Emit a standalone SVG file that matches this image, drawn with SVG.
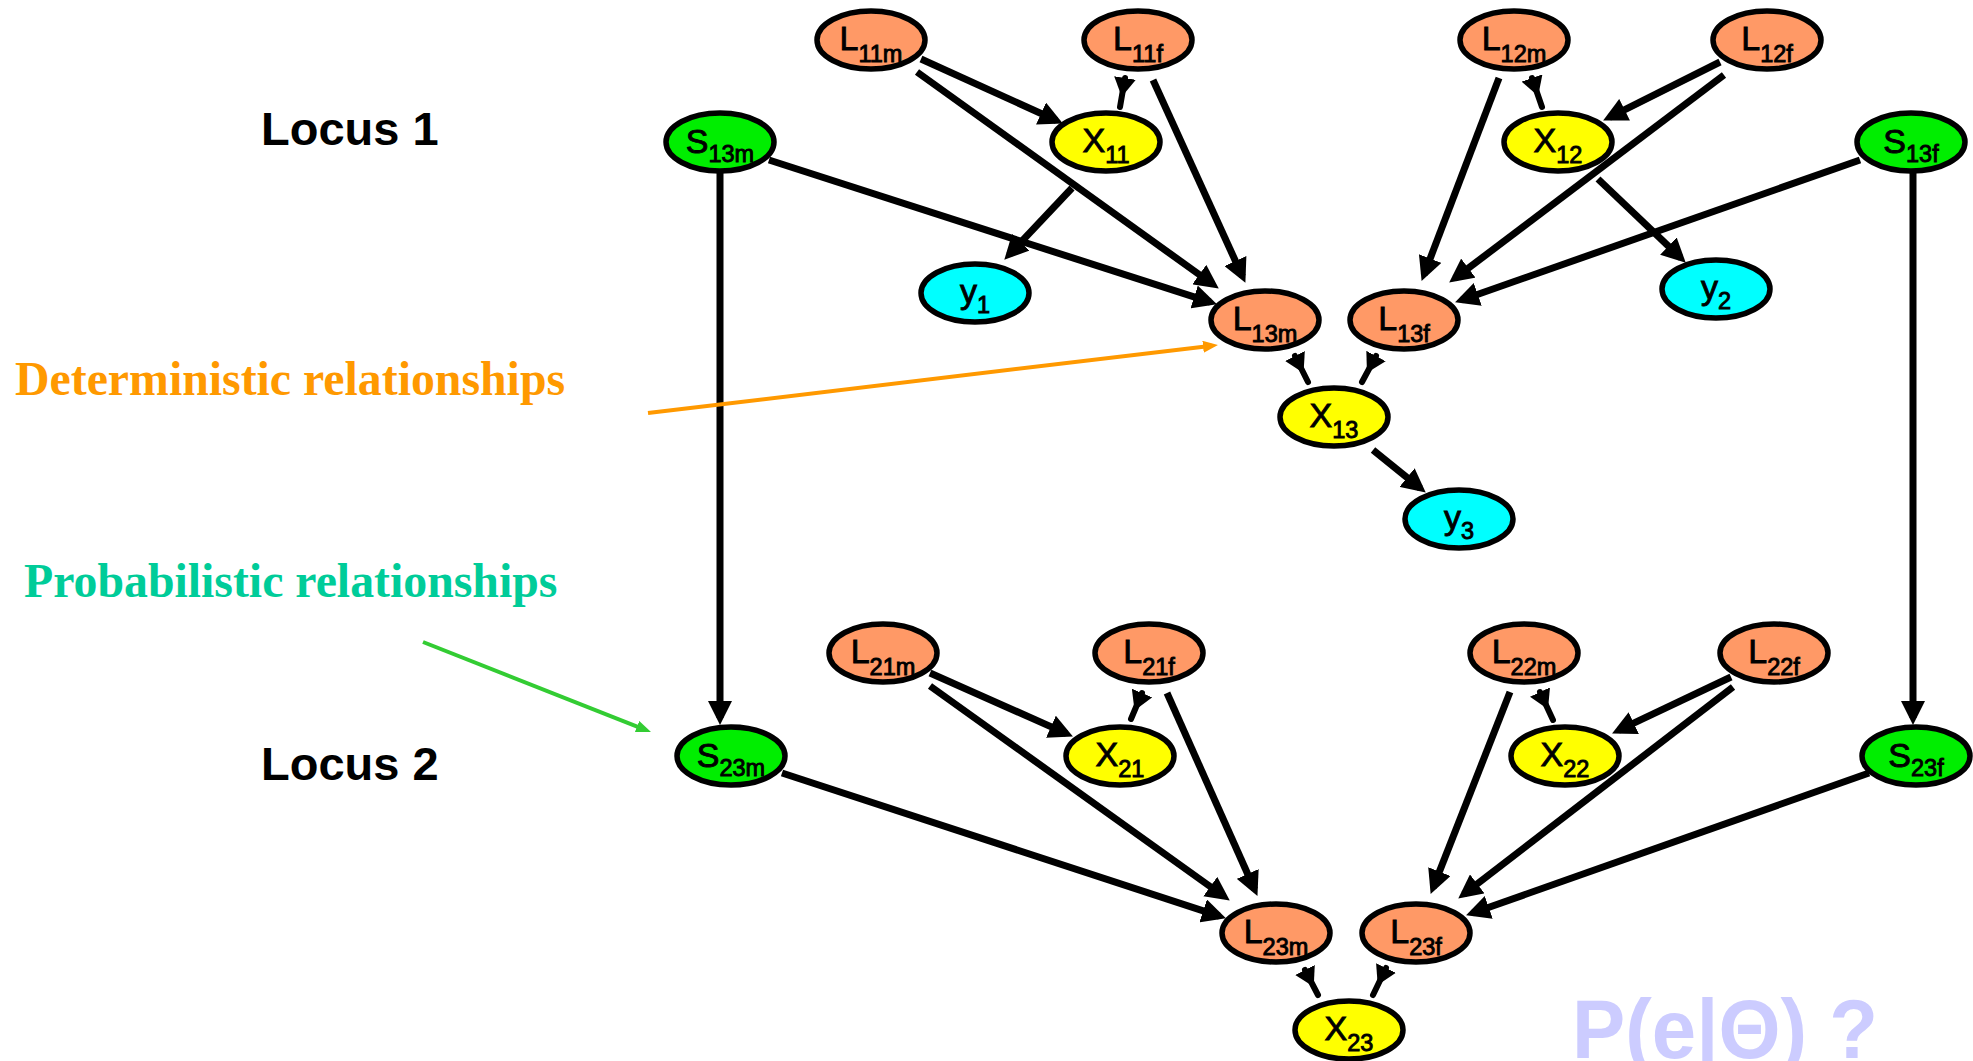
<svg xmlns="http://www.w3.org/2000/svg" width="1973" height="1061" viewBox="0 0 1973 1061">
  <defs>
    <style>
      .node ellipse { stroke: #000; stroke-width: 5.5; }
      .allele ellipse { fill: #FF9966; }
      .geno ellipse { fill: #FFFF00; }
      .sel ellipse { fill: #00EE00; }
      .pheno ellipse { fill: #00FFFF; }
      .lbl { font-family: "Liberation Sans", Arial, sans-serif; font-size: 34px; text-anchor: middle; fill: #000; stroke: #000; stroke-width: 0.9; }
      .sub { font-size: 23.5px; }
      .edge { stroke: #000; stroke-width: 7; fill: none; marker-end: url(#head); }
      .stub { stroke: #000; stroke-width: 6; stroke-linecap: round; fill: none; marker-start: url(#stubhead); }
      .locus { font-family: "Liberation Sans", Arial, sans-serif; font-size: 47px; font-weight: bold; fill: #000; }
      .note { font-family: "Liberation Serif", "Times New Roman", serif; font-size: 47.8px; font-weight: bold; }
    </style>
    <marker id="head" markerUnits="userSpaceOnUse" viewBox="0 0 24 24" markerWidth="24" markerHeight="24" refX="17" refY="12" orient="auto">
      <path d="M0,0 L24,12 L0,24 z" fill="#000"/>
    </marker>
    <marker id="stubhead" markerUnits="userSpaceOnUse" viewBox="0 0 19 22" markerWidth="19" markerHeight="22" refX="0" refY="11" orient="auto">
      <path d="M0,0 L19,11 L0,22 z" fill="#000"/>
    </marker>
    <marker id="headOrange" markerUnits="userSpaceOnUse" viewBox="0 0 15 12" markerWidth="15" markerHeight="12" refX="9" refY="6" orient="auto">
      <path d="M0,0 L15,6 L0,12 z" fill="#FF9900"/>
    </marker>
    <marker id="headGreen" markerUnits="userSpaceOnUse" viewBox="0 0 15 12" markerWidth="15" markerHeight="12" refX="9" refY="6" orient="auto">
      <path d="M0,0 L15,6 L0,12 z" fill="#33CC33"/>
    </marker>
  </defs>

  <rect width="1973" height="1061" fill="#fff"/>

  <!-- side labels -->
  <text class="locus" x="261" y="145">Locus 1</text>
  <text class="locus" x="261" y="780">Locus 2</text>
  <text class="note" x="15" y="395" fill="#FF9900">Deterministic relationships</text>
  <text class="note" x="24" y="597" fill="#00CC99">Probabilistic relationships</text>
  <text x="1572" y="1058" font-family="Liberation Sans, Arial, sans-serif" font-size="83" font-weight="bold" fill="#CCCCFF" textLength="306" lengthAdjust="spacingAndGlyphs">P(e|Θ) ?</text>

  <!-- nodes -->
  <g id="L11m" class="node allele"><ellipse cx="871" cy="40" rx="54" ry="29"/><text class="lbl" x="871" y="50">L<tspan class="sub" dy="12">11m</tspan></text></g>
  <g id="L11f" class="node allele"><ellipse cx="1138" cy="40" rx="54" ry="29"/><text class="lbl" x="1138" y="50">L<tspan class="sub" dy="12">11f</tspan></text></g>
  <g id="L12m" class="node allele"><ellipse cx="1514" cy="40" rx="54" ry="29"/><text class="lbl" x="1514" y="50">L<tspan class="sub" dy="12">12m</tspan></text></g>
  <g id="L12f" class="node allele"><ellipse cx="1767" cy="40" rx="54" ry="29"/><text class="lbl" x="1767" y="50">L<tspan class="sub" dy="12">12f</tspan></text></g>

  <g id="S13m" class="node sel"><ellipse cx="720" cy="142" rx="54" ry="29"/><text class="lbl" x="720" y="153">S<tspan class="sub" dy="9">13m</tspan></text></g>
  <g id="X11" class="node geno"><ellipse cx="1106" cy="142" rx="54" ry="29"/><text class="lbl" x="1106" y="152">X<tspan class="sub" dy="11">11</tspan></text></g>
  <g id="X12" class="node geno"><ellipse cx="1558" cy="142" rx="54" ry="29"/><text class="lbl" x="1558" y="152">X<tspan class="sub" dy="11">12</tspan></text></g>
  <g id="S13f" class="node sel"><ellipse cx="1911" cy="142" rx="54" ry="29"/><text class="lbl" x="1911" y="153">S<tspan class="sub" dy="9">13f</tspan></text></g>

  <g id="Y1" class="node pheno"><ellipse cx="975" cy="293" rx="54" ry="29"/><text class="lbl" x="975" y="303">y<tspan class="sub" dy="10">1</tspan></text></g>
  <g id="Y2" class="node pheno"><ellipse cx="1716" cy="289" rx="54" ry="29"/><text class="lbl" x="1716" y="299">y<tspan class="sub" dy="10">2</tspan></text></g>

  <g id="L13m" class="node allele"><ellipse cx="1265" cy="320" rx="54" ry="29"/><text class="lbl" x="1265" y="330">L<tspan class="sub" dy="12">13m</tspan></text></g>
  <g id="L13f" class="node allele"><ellipse cx="1404" cy="320" rx="54" ry="29"/><text class="lbl" x="1404" y="330">L<tspan class="sub" dy="12">13f</tspan></text></g>
  <g id="X13" class="node geno"><ellipse cx="1334" cy="417" rx="54" ry="29"/><text class="lbl" x="1334" y="427">X<tspan class="sub" dy="11">13</tspan></text></g>
  <g id="Y3" class="node pheno"><ellipse cx="1459" cy="519" rx="54" ry="29"/><text class="lbl" x="1459" y="529">y<tspan class="sub" dy="10">3</tspan></text></g>

  <g id="L21m" class="node allele"><ellipse cx="883" cy="653" rx="54" ry="29"/><text class="lbl" x="883" y="663">L<tspan class="sub" dy="12">21m</tspan></text></g>
  <g id="L21f" class="node allele"><ellipse cx="1149" cy="653" rx="54" ry="29"/><text class="lbl" x="1149" y="663">L<tspan class="sub" dy="12">21f</tspan></text></g>
  <g id="L22m" class="node allele"><ellipse cx="1524" cy="653" rx="54" ry="29"/><text class="lbl" x="1524" y="663">L<tspan class="sub" dy="12">22m</tspan></text></g>
  <g id="L22f" class="node allele"><ellipse cx="1774" cy="653" rx="54" ry="29"/><text class="lbl" x="1774" y="663">L<tspan class="sub" dy="12">22f</tspan></text></g>

  <g id="S23m" class="node sel"><ellipse cx="731" cy="756" rx="54" ry="29"/><text class="lbl" x="731" y="767">S<tspan class="sub" dy="9">23m</tspan></text></g>
  <g id="X21" class="node geno"><ellipse cx="1120" cy="756" rx="54" ry="29"/><text class="lbl" x="1120" y="766">X<tspan class="sub" dy="11">21</tspan></text></g>
  <g id="X22" class="node geno"><ellipse cx="1565" cy="756" rx="54" ry="29"/><text class="lbl" x="1565" y="766">X<tspan class="sub" dy="11">22</tspan></text></g>
  <g id="S23f" class="node sel"><ellipse cx="1916" cy="756" rx="54" ry="29"/><text class="lbl" x="1916" y="767">S<tspan class="sub" dy="9">23f</tspan></text></g>

  <g id="L23m" class="node allele"><ellipse cx="1276" cy="933" rx="54" ry="29"/><text class="lbl" x="1276" y="943">L<tspan class="sub" dy="12">23m</tspan></text></g>
  <g id="L23f" class="node allele"><ellipse cx="1416" cy="933" rx="54" ry="29"/><text class="lbl" x="1416" y="943">L<tspan class="sub" dy="12">23f</tspan></text></g>
  <g id="X23" class="node geno"><ellipse cx="1349" cy="1030" rx="54" ry="29"/><text class="lbl" x="1349" y="1040">X<tspan class="sub" dy="11">23</tspan></text></g>

  <!-- connectors -->
  <g id="connectors">
    <!-- locus 1 -->
    <line class="edge" x1="921" y1="59" x2="1056.5" y2="120.5"/>
    <line class="edge" x1="917" y1="72" x2="1213.1" y2="284.5"/>
    <line class="edge" x1="1153" y1="80" x2="1242.5" y2="276.5"/>
    <line class="edge" x1="769" y1="160" x2="1210.3" y2="302.2"/>
    <line class="edge" x1="1072" y1="188" x2="1009.1" y2="254.6"/>
    <line class="edge" x1="720" y1="173" x2="720" y2="718"/>
    <line class="edge" x1="1499" y1="78" x2="1424.1" y2="274.4"/>
    <line class="edge" x1="1720" y1="62" x2="1609.4" y2="117.3"/>
    <line class="edge" x1="1724" y1="75" x2="1454.8" y2="278.4"/>
    <line class="edge" x1="1860" y1="160" x2="1461.7" y2="300"/>
    <line class="edge" x1="1598" y1="179" x2="1680.7" y2="257.9"/>
    <line class="edge" x1="1913" y1="173" x2="1913" y2="718"/>
    <line class="edge" x1="1373" y1="450" x2="1420.3" y2="488.2"/>
    <line class="stub" x1="1125" y1="78" x2="1120" y2="107"/>
    <line class="stub" x1="1532" y1="78" x2="1542" y2="107"/>
    <line class="stub" x1="1295" y1="356" x2="1308" y2="382"/>
    <line class="stub" x1="1376" y1="356" x2="1362" y2="382"/>
    <!-- locus 2 -->
    <line class="edge" x1="930" y1="673" x2="1066.5" y2="733.6"/>
    <line class="edge" x1="930" y1="686" x2="1224.1" y2="896.5"/>
    <line class="edge" x1="1167" y1="693" x2="1254.6" y2="889.5"/>
    <line class="edge" x1="782" y1="773" x2="1219.3" y2="916.1"/>
    <line class="edge" x1="1510" y1="692" x2="1433.2" y2="887.4"/>
    <line class="edge" x1="1731" y1="677" x2="1618.4" y2="730.4"/>
    <line class="edge" x1="1733" y1="687" x2="1463.8" y2="894.3"/>
    <line class="edge" x1="1869" y1="773" x2="1472.7" y2="913"/>
    <line class="stub" x1="1142" y1="693" x2="1131" y2="719"/>
    <line class="stub" x1="1540" y1="692" x2="1553" y2="720"/>
    <line class="stub" x1="1305" y1="970" x2="1318" y2="995"/>
    <line class="stub" x1="1386" y1="968" x2="1373" y2="995"/>
    <!-- annotation pointers -->
    <line x1="648" y1="413" x2="1212" y2="345.7" stroke="#FF9900" stroke-width="4" marker-end="url(#headOrange)"/>
    <line x1="423" y1="642" x2="645.4" y2="729.8" stroke="#33CC33" stroke-width="4" marker-end="url(#headGreen)"/>
  </g>
</svg>
